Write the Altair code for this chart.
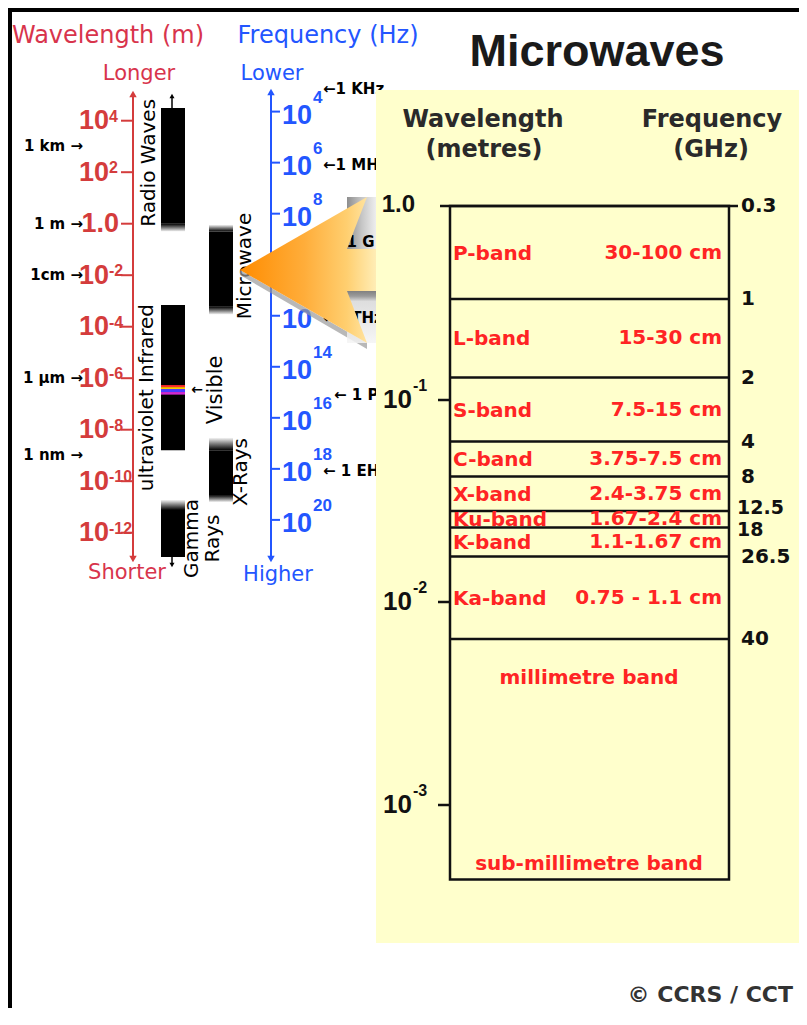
import altair as alt
import numpy as np
import pandas as pd

M = 8  # page margin: reference pixel -> chart pixel


def P(v):
    return v - M


RED = "#d8344c"
RED_AX = "#d43c3c"
BLUE = "#2356ff"
PANEL = "#ffffcc"
BAND_RED = "#ff2424"
DARK = "#2a2a2a"

# ---------------- data: left spectrum ----------------
wl_tick_exp = [4, 2, 0, -2, -4, -6, -8, -10, -12]
wl_ref_names = ["1 km", "1 m", "1cm", "1 µm", "1 nm"]
wl_ref_vals = [1e3, 1.0, 1e-2, 1e-6, 1e-9]

fq_tick_exp = [4, 6, 8, 10, 12, 14, 16, 18, 20]
fq_ref_names = ["1 KHz", "1 MHz", "1 GHz", "1 THz", " 1 PHz", " 1 EHz"]
fq_ref_vals = [1e3, 1e6, 1e9, 1e12, 1e15, 1e18]

spec_bands = ["Radio Waves", "Microwave", "ultraviolet Infrared", "X-Rays", "Gamma Rays"]
spec_col = ["a", "b", "a", "b", "a"]
spec_short = [1.0, 6e-4, 1.6e-9, 2.9e-11, 1.15e-13]   # metres, solid part
spec_long = [3.1e4, 0.5, 7e-4, 1.6e-9, 7.6e-12]
fade_below = [(1.0, 0.5), (6e-4, 3e-4), None, (2.9e-11, 1.55e-11), None]
fade_above = [None, (0.9, 0.5), None, (4.8e-9, 1.6e-9), (1.86e-11, 7.6e-12)]

visible_colors = ["#ff2a2a", "#ffc800", "#4a3cff", "#d22ad2"]
visible_edges = [5.4e-7, 4.5e-7, 3.8e-7, 2.9e-7, 2.3e-7]

# ---------------- data: microwave panel ----------------
mw_bands = ["P-band", "L-band", "S-band", "C-band", "X-band", "Ku-band", "K-band", "Ka-band"]
mw_ranges = ["30-100 cm", "15-30 cm", "7.5-15 cm", "3.75-7.5 cm", "2.4-3.75 cm",
             "1.67-2.4 cm", "1.1-1.67 cm", "0.75 - 1.1 cm"]
mw_edges_ghz = [0.3, 1, 2, 4, 8, 12.5, 18, 26.5, 40]
mw_edge_labels = ["0.3", "1", "2", "4", "8", "12.5", "18", "26.5", "40"]
mw_wl_ticks = [1.0, 0.1, 0.01, 0.001]
mw_wl_exp = ["", "-1", "-2", "-3"]
mm_labels = ["millimetre band", "sub-millimetre band"]
mm_wl = [4.2e-3, 5.1e-4]
panel_bottom_wl = 4.3e-4

# ---------------- scales ----------------
WL = alt.Scale(type="log", domain=[1e4, 1e-12], range=[P(120.7), P(532.7)], nice=False)
FQ = alt.Scale(type="log", domain=[1e4, 1e20], range=[P(111.6), P(519.9)], nice=False)
PWL = alt.Scale(type="log", domain=mw_wl_ticks, range=[P(206), P(400), P(602), P(805)], nice=False)
PFQ = alt.Scale(type="log", domain=mw_edges_ghz,
                range=[P(v) for v in (206, 299, 377.5, 441.5, 476.5, 511, 527.5, 556.5, 639)],
                nice=False)
COL = alt.Scale(type="band", domain=["a", "b"], range=[P(161), P(233)],
                paddingInner=0.5, paddingOuter=0)
DX = alt.Scale(type="linear", domain=[0, 1000], range=[P(0), P(1000)], nice=False, zero=False)
DY = alt.Scale(type="linear", domain=[0, 1000], range=[P(0), P(1000)], nice=False, zero=False)

ONE = pd.DataFrame({"a": [0]})


def yq(field, scale):
    return alt.Y(f"{field}:Q", scale=scale, axis=None)


def static_text(text, x, y, size, color="black", font="DejaVu Sans", weight="normal",
                align="center", baseline="middle", angle=0):
    mk = dict(font=font, fontSize=size, fontWeight=weight, color=color, align=align, baseline=baseline)
    if angle:
        mk["angle"] = angle
    return alt.Chart(pd.DataFrame({"t": [text]})).mark_text(**mk).encode(
        x=alt.value(P(x)), y=alt.value(P(y)), text="t:N")


def scaled_text(df, yfield, scale, x, tfield, size, color="black", font="DejaVu Sans",
                weight="normal", align="left", baseline="middle", dx=0, dy=0, angle=0, **extra):
    mk = dict(font=font, fontSize=size, fontWeight=weight, color=color, align=align, baseline=baseline)
    if dx:
        mk["dx"] = dx
    if dy:
        mk["dy"] = dy
    if angle:
        mk["angle"] = angle
    mk.update(extra)
    return alt.Chart(df).mark_text(**mk).encode(
        x=alt.value(P(x)), y=yq(yfield, scale), text=f"{tfield}:N")


def hrule(df, yfield, scale, x1, x2, color, width):
    return alt.Chart(df).mark_rule(color=color, strokeWidth=width).encode(
        x=alt.value(P(x1)), x2=alt.value(P(x2)), y=yq(yfield, scale))


def box(x1, x2, y1, y2, color, **kw):
    return alt.Chart(ONE).mark_rect(color=color, **kw).encode(
        x=alt.value(P(x1)), x2=alt.value(P(x2)), y=alt.value(P(y1)), y2=alt.value(P(y2)))


def vline(x, y1, y2, color, width):
    return alt.Chart(ONE).mark_rule(color=color, strokeWidth=width).encode(
        x=alt.value(P(x)), y=alt.value(P(y1)), y2=alt.value(P(y2)))


def head(x, y, shape, color, size=55):
    return alt.Chart(ONE).mark_point(shape=shape, filled=True, size=size, color=color, opacity=1).encode(
        x=alt.value(P(x)), y=alt.value(P(y)))


def grad(stops, vertical=False):
    return alt.Gradient(gradient="linear",
                        stops=[alt.GradientStop(color=c, offset=o) for o, c in stops],
                        x1=0, y1=0, x2=0 if vertical else 1, y2=1 if vertical else 0)


def area(xs, ys, y2s, color, **kw):
    df = pd.DataFrame({"x": xs, "y": ys, "y2": y2s})
    return alt.Chart(df).mark_area(color=color, **kw).encode(
        x=alt.X("x:Q", scale=DX, axis=None), y=alt.Y("y:Q", scale=DY, axis=None), y2="y2:Q")


layers = []

# frame
layers += [box(8, 805, 8, 12, "black"), box(8, 12, 8, 1010, "black")]

# titles of the left part
layers += [
    static_text("Wavelength (m)", 108, 36, 24, RED),
    static_text("Frequency (Hz)", 328, 36, 24, BLUE),
    static_text("Longer", 139, 74, 21, RED),
    static_text("Shorter", 127, 573, 21, RED),
    static_text("Lower", 272, 74, 21, BLUE),
    static_text("Higher", 278, 575, 21, BLUE),
]

# ---- wavelength axis (red)
wl = pd.DataFrame({"e": wl_tick_exp})
wl["v"] = 10.0 ** wl["e"]
wl_pow = wl[wl.e != 0].copy()
wl_pow["base"] = "10"
wl_pow["sup"] = wl_pow.e.astype(str)
wl_one = wl[wl.e == 0].copy()
wl_one["base"] = "1.0"
layers += [
    vline(133, 95, 558, RED_AX, 2),
    head(133, 94, "triangle-up", RED_AX),
    head(133, 559, "triangle-down", RED_AX),
    hrule(wl, "v", WL, 121, 133, RED_AX, 2),
    scaled_text(wl_pow, "v", WL, 109, "base", 27, RED_AX, "Liberation Sans", "bold", "right", "alphabetic", dy=8.5),
    scaled_text(wl_pow, "v", WL, 109, "sup", 16, RED_AX, "Liberation Sans", "bold", "left", "alphabetic", dy=1),
    scaled_text(wl_one, "v", WL, 119, "base", 27, RED_AX, "Liberation Sans", "bold", "right", "alphabetic", dy=8.5),
]
wlr = pd.DataFrame({"name": wl_ref_names, "v": wl_ref_vals})
wlr["t"] = wlr["name"] + " →"
layers.append(scaled_text(wlr, "v", WL, 83, "t", 15, "black", "DejaVu Sans", "bold", "right", "middle"))

# ---- frequency axis (blue)
fq = pd.DataFrame({"e": fq_tick_exp})
fq["v"] = 10.0 ** fq["e"]
fq["base"] = "10"
fq["sup"] = fq.e.astype(str)
layers += [
    vline(271, 93, 558, BLUE, 2),
    head(271, 92, "triangle-up", BLUE),
    head(271, 559, "triangle-down", BLUE),
    hrule(fq, "v", FQ, 271, 280, BLUE, 2),
    scaled_text(fq, "v", FQ, 282, "base", 27, BLUE, "Liberation Sans", "bold", "left", "alphabetic", dy=12),
    scaled_text(fq, "v", FQ, 313, "sup", 17, BLUE, "Liberation Sans", "bold", "left", "alphabetic", dy=-9),
]

# ---- spectrum bars
bars = pd.DataFrame({"band": spec_bands, "col": spec_col, "lo": spec_short, "hi": spec_long})
xcol = alt.X("col:N", scale=COL, axis=None)
layers.append(alt.Chart(bars).mark_rect(color="black").encode(x=xcol, y=yq("hi", WL), y2="lo:Q"))

fb = pd.DataFrame([{"col": c, "hi": f[0], "lo": f[1]} for c, f in zip(spec_col, fade_below) if f])
fa = pd.DataFrame([{"col": c, "hi": f[0], "lo": f[1]} for c, f in zip(spec_col, fade_above) if f])
layers.append(alt.Chart(fb).mark_rect(
    color=grad([(0, "#000000"), (0.5, "#777777"), (1, "#f4f4f4")], vertical=True)).encode(
    x=xcol, y=yq("hi", WL), y2="lo:Q"))
layers.append(alt.Chart(fa).mark_rect(
    color=grad([(0, "#f4f4f4"), (0.5, "#777777"), (1, "#000000")], vertical=True)).encode(
    x=xcol, y=yq("hi", WL), y2="lo:Q"))

vis = pd.DataFrame({"c": visible_colors, "hi": visible_edges[:-1], "lo": visible_edges[1:], "col": "a"})
layers.append(alt.Chart(vis).mark_rect().encode(
    x=xcol, y=yq("hi", WL), y2="lo:Q", color=alt.Color("c:N", scale=None)))

# arrows at open ends of radio / gamma bars
layers += [
    alt.Chart(bars[bars.band == "Radio Waves"]).mark_rule(color="black", strokeWidth=1.5).encode(
        x=alt.value(P(172)), y=yq("hi", WL), y2=alt.value(P(97))),
    head(172, 96, "triangle-up", "black", 25),
    alt.Chart(bars[bars.band == "Gamma Rays"]).mark_rule(color="black", strokeWidth=1.5).encode(
        x=alt.value(P(172)), y=yq("lo", WL), y2=alt.value(P(565))),
    head(172, 565, "triangle-down", "black", 25),
]

# band labels (rotated), at geometric centres of their bands
full_lo = [min(s, f[1]) if f else s for s, f in zip(spec_short, fade_below)]
full_hi = [max(l, f[0]) if f else l for l, f in zip(spec_long, fade_above)]
bl = pd.DataFrame({"band": spec_bands, "lo": spec_short, "hi": spec_long, "flo": full_lo, "fhi": full_hi})
bl["mid"] = np.sqrt(bl["lo"] * bl["hi"])
bl["fmid"] = np.sqrt(bl["flo"] * bl["fhi"])


def band_label(name, text, x, use_full=False, dx=0):
    d = bl[bl.band == name].copy()
    d["t"] = text
    return scaled_text(d, "fmid" if use_full else "mid", WL, x, "t", 20, "black", "DejaVu Sans",
                       "normal", "center", "middle", dx=dx, angle=270)


layers += [
    band_label("Radio Waves", "Radio Waves", 149, dx=3),
    band_label("ultraviolet Infrared", "ultraviolet Infrared", 147, dx=-20),
    band_label("X-Rays", "X-Rays", 241, use_full=True, dx=-2),
    band_label("Gamma Rays", "Gamma", 192, use_full=True, dx=-10),
    band_label("Gamma Rays", "Rays", 213, use_full=True, dx=-10),
]
vmid = pd.DataFrame({"v": [np.sqrt(visible_edges[0] * visible_edges[-1])], "t": ["Visible"], "a": ["←"]})
layers += [
    scaled_text(vmid, "v", WL, 216, "t", 21, "black", "DejaVu Sans", "normal", "center", "middle", angle=270),
    scaled_text(vmid, "v", WL, 197, "a", 14, "black", "DejaVu Sans", "bold", "center", "middle"),
    band_label("Microwave", "Microwave", 245, dx=3),
]

# ---- pointer (3-D arrow) from microwave bar to the panel
apex_x, apex_y, tip_x, half, notch_x, shaft, panel_x = 240, 270, 367, 73, 347, 21, 377
slope = half / (tip_x - apex_x)
top_n = apex_y - (notch_x - apex_x) * slope
bot_n = apex_y + (notch_x - apex_x) * slope
layers += [
    # gray bevel shadows
    area([apex_x, tip_x], [apex_y, apex_y + half], [apex_y + 5, apex_y + half + 6], "#9a9a9a", opacity=0.7),
    area([notch_x, panel_x], [apex_y - half, apex_y - half], [apex_y - shaft, apex_y - shaft],
         grad([(0, "#7a7a7a"), (0.5, "#bdbdbd"), (1, "#eeeeee")]), opacity=0.85),
    area([notch_x, panel_x], [apex_y + shaft, apex_y + shaft], [apex_y + half, apex_y + half],
         grad([(0, "#6a6a6a"), (0.1, "#8a8a8a"), (0.2, "#d8d8d8"), (1, "#f4f4f4")], vertical=True),
         opacity=0.85),
]
# frequency call-outs, cut off where the panel begins
fqr = pd.DataFrame({"name": fq_ref_names, "v": fq_ref_vals})
fqr["t"] = "←" + fqr["name"]
between = fqr["name"].isin(["1 GHz", " 1 PHz"])   # these sit beside a two-digit exponent
layers += [
    scaled_text(fqr[~between], "v", FQ, 323, "t", 15, "black", "DejaVu Sans", "bold", "left", "middle",
                dy=2.5, limit=62, ellipsis=" "),
    scaled_text(fqr[between], "v", FQ, 334, "t", 15, "black", "DejaVu Sans", "bold", "left", "middle",
                dy=2.5, limit=50, ellipsis=" "),
]
layers += [
    area([apex_x, notch_x], [apex_y, top_n], [apex_y, bot_n],
         grad([(0, "#ff8c00"), (0.6, "#ffad3a"), (1, "#ffcf70")])),
    area([notch_x, tip_x], [top_n, apex_y - half], [apex_y - shaft, apex_y - half],
         grad([(0, "#ffcf70"), (1, "#ffe3a0")])),
    area([notch_x, tip_x], [apex_y + shaft, apex_y + half], [bot_n, apex_y + half],
         grad([(0, "#ffcf70"), (1, "#ffe3a0")])),
    area([notch_x, panel_x], [apex_y - shaft, apex_y - shaft], [apex_y + shaft, apex_y + shaft],
         grad([(0, "#ffcf70"), (1, "#ffeeb8")])),
]

# ---- microwave panel
layers.append(box(376, 802, 90, 943, PANEL))
layers += [
    static_text("Microwaves", 597, 52, 45, "#1a1a1a", "Liberation Sans", "bold"),
    static_text("Wavelength", 483, 120, 24, DARK, weight="bold"),
    static_text("(metres)", 484, 150, 24, DARK, weight="bold"),
    static_text("Frequency", 712, 120, 24, DARK, weight="bold"),
    static_text("(GHz)", 711, 150, 24, DARK, weight="bold"),
]

edges = pd.DataFrame({"f": mw_edges_ghz, "lab": mw_edge_labels})
e_up = edges[edges.lab == "12.5"]
e_dn = edges[edges.lab == "18"]
e_rest = edges[~edges.lab.isin(["12.5", "18"])]
layers += [
    alt.Chart(pd.DataFrame({"top": [mw_wl_ticks[0]], "bot": [panel_bottom_wl]})).mark_rect(
        fillOpacity=0, stroke="#111111", strokeWidth=2.5).encode(
        x=alt.value(P(450)), x2=alt.value(P(729)), y=yq("top", PWL), y2="bot:Q"),
    hrule(edges.iloc[:1], "f", PFQ, 440, 738, "#111111", 2.5),
    hrule(edges.iloc[1:], "f", PFQ, 450, 729, "#111111", 2.5),
    scaled_text(e_rest, "f", PFQ, 741, "lab", 20, "#111111", "DejaVu Sans", "bold", "left", "middle"),
    scaled_text(e_up, "f", PFQ, 737, "lab", 19, "#111111", "DejaVu Sans", "bold", "left", "middle", dy=-3),
    scaled_text(e_dn, "f", PFQ, 737, "lab", 19, "#111111", "DejaVu Sans", "bold", "left", "middle", dy=2),
]

pw = pd.DataFrame({"v": mw_wl_ticks, "sup": mw_wl_exp})
pw_pow = pw[pw.sup != ""].copy()
pw_pow["base"] = "10"
pw_one = pw[pw.sup == ""].copy()
pw_one["base"] = "1.0"
layers += [
    hrule(pw_pow, "v", PWL, 438, 450, "#111111", 2.5),
    scaled_text(pw_pow, "v", PWL, 412, "base", 26, "#111111", "Liberation Sans", "bold", "right", "alphabetic", dy=8),
    scaled_text(pw_pow, "v", PWL, 413, "sup", 16, "#111111", "Liberation Sans", "bold", "left", "alphabetic", dy=-9),
    scaled_text(pw_one, "v", PWL, 415, "base", 24, "#111111", "Liberation Sans", "bold", "right", "middle", dy=-1),
]

mb = pd.DataFrame({"name": mw_bands, "rng": mw_ranges, "lo": mw_edges_ghz[:-1], "hi": mw_edges_ghz[1:]})
mb["mid"] = np.sqrt(mb["lo"] * mb["hi"])
layers += [
    scaled_text(mb, "mid", PFQ, 453, "name", 20, BAND_RED, "DejaVu Sans", "bold", "left", "middle", dy=1),
    scaled_text(mb, "mid", PFQ, 722, "rng", 20, BAND_RED, "DejaVu Sans", "bold", "right", "middle"),
]
mm = pd.DataFrame({"t": mm_labels, "v": mm_wl})
layers.append(scaled_text(mm, "v", PWL, 589, "t", 20, BAND_RED, "DejaVu Sans", "bold", "center", "middle"))

layers.append(static_text("© CCRS / CCT", 793, 995, 22, "#333333", weight="bold", align="right"))

chart = alt.layer(*layers).resolve_scale(
    x="independent", y="independent", color="independent"
).properties(
    width=791, height=1000, padding=0, autosize=alt.AutoSizeParams(type="none"),
    background="white",
).configure_view(stroke=None)

chart.save("out.html", embed_options={"renderer": "svg", "actions": False})
